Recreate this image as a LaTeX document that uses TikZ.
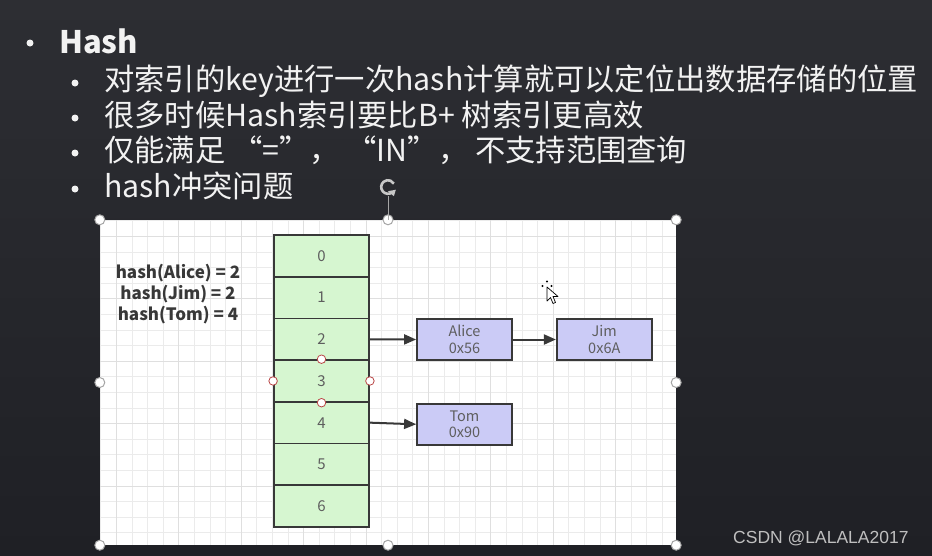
\documentclass[tikz,border=0pt]{standalone}
\usepackage{fontspec}
\usetikzlibrary{positioning,arrows.meta}
\newfontfamily\cjk{Noto Sans CJK SC}
\newfontfamily\wmfont{Liberation Sans}
\definecolor{slidetop}{HTML}{2D2E33}
\definecolor{slidebottom}{HTML}{1F2025}
\definecolor{slidetext}{HTML}{F2F2F2}
\definecolor{slotgreen}{HTML}{D6F6D0}
\definecolor{entryblue}{HTML}{CBCBF6}
\definecolor{boxline}{HTML}{383838}
\definecolor{labelgray}{HTML}{5E5E5E}
\definecolor{minorgrid}{HTML}{EBEBEB}
\definecolor{majorgrid}{HTML}{DFDFDF}
\begin{document}
\begin{tikzpicture}[x=1pt, y=-1pt, node distance=41.7pt, auto]

	% Styles
	\tikzstyle{slot} = [rectangle, draw=boxline, line width=1.8pt, fill=slotgreen,
	minimum width=95pt, minimum height=41.7pt, inner sep=0pt,
	text=labelgray, font=\cjk\fontsize{15}{15}\selectfont]
	\tikzstyle{entry} = [rectangle, draw=boxline, line width=1.8pt, fill=entryblue,
	minimum width=95pt, minimum height=41pt, inner sep=0pt, align=center,
	text=labelgray, font=\cjk\fontsize{14.5}{16.5}\selectfont]
	\tikzstyle{link} = [draw=boxline, line width=2pt, -{Triangle[length=12pt,width=10pt]}]
	\tikzstyle{slideline} = [anchor=base west, inner sep=0pt, text=slidetext,
	font=\cjk\fontsize{30.3}{30.3}\selectfont]
	\tikzstyle{dot} = [circle, fill=slidetext, inner sep=0pt, minimum size=7pt]
	\tikzstyle{grip} = [circle, draw=gray!70, line width=1pt, fill=white, inner sep=0pt, minimum size=10pt]
	\tikzstyle{pick} = [circle, draw=red!45!gray, line width=0.8pt, fill=white, inner sep=0pt, minimum size=8.5pt]

	\useasboundingbox (0,0) rectangle (932,555);
	\shade[top color=slidetop, bottom color=slidebottom] (0,0) rectangle (932,555);

	% Slide text
	\node[dot] (d0) at (30,43) {};
	\node[slideline, font=\cjk\bfseries\fontsize{31}{31}\selectfont] (title) at (59,53) {Hash};
	\node[dot] (d1) at (75,83) {};
	\node[slideline] (line1) at (104,90) {对索引的key进行一次hash计算就可以定位出数据存储的位置};
	\node[dot] (d2) at (75,118) {};
	\node[slideline] (line2) at (104,126) {很多时候Hash索引要比B+ 树索引更高效};
	\node[dot] (d3) at (75,153) {};
	\node[slideline] (line3) at (104,161) {仅能满足 “=”， “IN”， 不支持范围查询};
	\node[dot] (d4) at (75,189) {};
	\node[slideline] (line4) at (104,197) {hash冲突问题};

	% Board with grid
	\node[rectangle, fill=white, minimum width=576pt, minimum height=325pt, inner sep=0pt] (board) at (388,382.5) {};
	\begin{scope}
		\clip (100,220) rectangle (676,545);
		\foreach \i in {0,...,37}
			\draw[minorgrid, line width=0.9pt] ({100.9+15.6*\i},220) -- ({100.9+15.6*\i},545);
		\foreach \i in {0,...,21}
			\draw[minorgrid, line width=0.9pt] (100,{220.8+15.6*\i}) -- (676,{220.8+15.6*\i});
		\foreach \i in {0,...,8}
			\draw[majorgrid, line width=0.9pt] ({116.5+62.4*\i},220) -- ({116.5+62.4*\i},545);
		\foreach \i in {0,...,4}
			\draw[majorgrid, line width=0.9pt] (100,{236.4+62.4*\i}) -- (676,{236.4+62.4*\i});
	\end{scope}

	% Hash values
	\node[align=center, text=boxline, font=\cjk\bfseries\fontsize{17}{21}\selectfont] (hashes) at (178,294)
	{hash(Alice) = 2\\hash(Jim) = 2\\hash(Tom) = 4};

	% Buckets
	\node[slot] (c0) at (321.5,255.85) {0};
	\foreach \i [evaluate=\i as \p using int(\i-1)] in {1,...,6}
		\node[slot, below of=c\p] (c\i) {\i};

	% Entries
	\node[entry] (alice) at (464.5,339.5) {Alice\\0x56};
	\node[entry, right=43pt of alice] (jim) {Jim\\0x6A};
	\node[entry, below=42pt of alice] (tom) {Tom\\0x90};

	% Arrows
	\draw[link] (c2.east) -- (alice.west);
	\draw[link] (alice) -- (jim);
	\draw[link] (c4.east) -- (tom.west);

	% Selection handles
	\foreach \a in {north, west, east, south}
		\node[pick] at (c3.\a) {};
	\foreach \a in {north west, north, north east, west, east, south west, south, south east}
		\node[grip] at (board.\a) {};
	\coordinate (turn) at (388,187);
	\draw[gray!70, line width=1pt] (board.north) -- (388,196);
	\draw[white!78!black, line width=2.6pt] (turn) ++(-50:6.8pt) arc[start angle=-50, end angle=-330, radius=6.8pt];
	\fill[white!78!black] (turn) ++(-50:6.8pt) ++(-4.5,-1) -- ++(8,-1.5) -- ++(-2,6.5) -- cycle;

	% Cursor
	\filldraw[fill=white, draw=black, line width=0.7pt, line join=round]
	(547,287) -- (547,301) -- (550.5,297.5) -- (553,303.5) -- (555.5,302.5) -- (553,296.5) -- (558,296.5) -- cycle;
	\foreach \p in {(547,281.5), (542.5,286), (551.5,286)}
		\fill[black] \p circle (1.2pt);

	% Watermark
	\node[anchor=base west, inner sep=0pt, text=white!75!black, font=\wmfont\fontsize{17.5}{17.5}\selectfont] (mark) at (733,543) {CSDN @LALALA2017};

\end{tikzpicture}
\end{document}
